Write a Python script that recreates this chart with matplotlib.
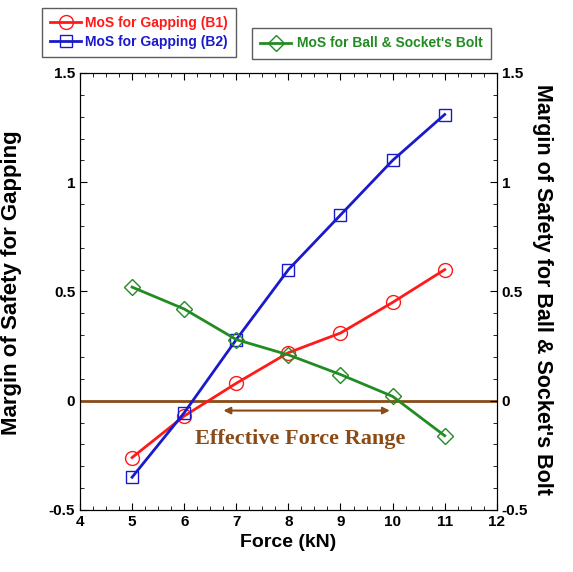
import matplotlib.pyplot as plt
from matplotlib.ticker import MultipleLocator

plt.rcParams['font.family'] = ['Liberation Sans', 'DejaVu Sans']
plt.rcParams['font.weight'] = 'bold'

force = [5, 6, 7, 8, 9, 10, 11]
mos_b1 = [-0.26, -0.07, 0.08, 0.22, 0.31, 0.45, 0.60]
mos_b2 = [-0.35, -0.055, 0.28, 0.60, 0.85, 1.10, 1.31]
mos_bolt = [0.52, 0.42, 0.28, 0.21, 0.12, 0.02, -0.16]
range_lo, range_hi = 6.7, 10.0

brown = '#8a4b17'

fig = plt.figure(figsize=(5.73, 5.72), dpi=100)
ax = fig.add_axes([0.1396, 0.1084, 0.7274, 0.764])
ax2 = ax.twinx()

ax.axhline(0, color=brown, lw=2)
l1, = ax.plot(force, mos_b1, color='#ff1a1a', lw=2, marker='o', ms=10,
              mfc='none', mec='#ff1a1a', mew=1, label='MoS for Gapping (B1)')
l2, = ax.plot(force, mos_b2, color='#1a1acc', lw=2, marker='s', ms=9,
              mfc='none', mec='#1a1acc', mew=1, label='MoS for Gapping (B2)')
l3, = ax2.plot(force, mos_bolt, color='#228b22', lw=2, marker='D', ms=8,
               mfc='none', mec='#228b22', mew=1, label="MoS for Ball & Socket's Bolt")

ax.annotate('', xy=(range_lo, -0.045), xytext=(range_hi, -0.045),
            arrowprops=dict(arrowstyle='<|-|>', color=brown, lw=1.5,
                            mutation_scale=10))
ax.text(8.22, -0.175, 'Effective Force Range',
        color=brown, fontsize=16, fontweight='bold', family='Liberation Serif',
        ha='center', va='center')

for a in (ax, ax2):
    a.set_xlim(4, 12)
    a.set_ylim(-0.5, 1.5)
    a.yaxis.set_major_locator(MultipleLocator(0.5))
    a.yaxis.set_minor_locator(MultipleLocator(0.1))
    a.tick_params(which='both', direction='in', labelsize=11)
    a.tick_params(which='major', length=5)
    a.tick_params(which='minor', length=3)
ax.xaxis.set_major_locator(MultipleLocator(1))
ax.xaxis.set_minor_locator(MultipleLocator(0.25))
ax.tick_params(axis='x', which='both', top=True)
ax.set_yticks([-0.5, 0, 0.5, 1, 1.5], ['-0.5', '0', '0.5', '1', '1.5'])
ax2.set_yticks([-0.5, 0, 0.5, 1, 1.5], ['-0.5', '0', '0.5', '1', '1.5'])

ax.set_xlabel('Force (kN)', fontsize=14, fontweight='bold')
ax.set_ylabel('Margin of Safety for Gapping', fontsize=16, fontweight='bold')
ax.yaxis.set_label_coords(-0.14, 0.52)
ax2.set_ylabel("Margin of Safety for Ball & Socket's Bolt", fontsize=15.5,
               fontweight='bold', rotation=270)
ax2.yaxis.set_label_coords(1.135, 0.505)

leg1 = fig.legend(handles=[l1, l2], loc='upper left',
                  bbox_to_anchor=(0.0733, 0.986), frameon=True,
                  prop=dict(size=10, weight='bold'),
                  fancybox=False, edgecolor='#333333', borderpad=0.6,
                  handlelength=2.2, labelspacing=0.3, handletextpad=0.3,
                  borderaxespad=0)
for t, l in zip(leg1.get_texts(), [l1, l2]):
    t.set_color(l.get_color())
leg2 = fig.legend(handles=[l3], loc='upper left',
                  bbox_to_anchor=(0.44, 0.951), frameon=True,
                  prop=dict(size=10, weight='bold'),
                  fancybox=False, edgecolor='#333333', borderpad=0.6,
                  handlelength=2.2, handletextpad=0.4, borderaxespad=0)
for t in leg2.get_texts():
    t.set_color(l3.get_color())

fig.savefig('out.png', dpi=100)
